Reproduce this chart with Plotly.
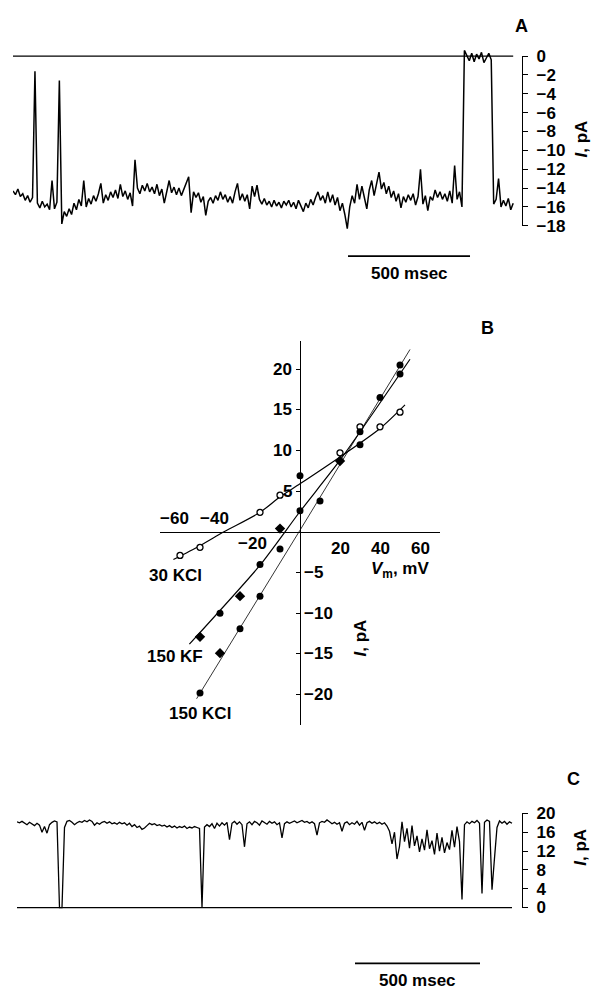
import plotly.graph_objects as go

W, H = 591, 997
FONT = "Liberation Sans, Arial, Helvetica, sans-serif"
WEIGHT = "bold"


def fx(px):
    return px / W


def fy(py):
    return 1 - py / H


# ---------------- Panel A data (single-channel current, pA; 10 ms samples) ----------------
A_DT_MS = 10
A_CURRENT_PA = [
    -14.3, -14.7, -14.1, -14.9, -14.6, -15.3, -14.8, -15.5, -15.0, -1.6,
    -15.6, -16.1, -15.4, -16.0, -15.7, -16.3, -13.2, -16.2, -15.5, -2.6,
    -17.8, -16.5, -17.0, -16.2, -16.8, -15.6, -16.3, -15.2, -15.9, -13.2,
    -16.0, -15.1, -15.7, -14.8, -15.4, -14.6, -13.5, -15.6, -14.7, -15.3,
    -14.4, -15.0, -14.2, -15.1, -13.6, -14.9, -14.3, -15.2, -14.5, -15.9,
    -11.0, -14.0, -14.6, -13.7, -14.3, -13.5, -14.4, -13.9, -14.6, -13.6,
    -14.8, -14.1, -15.6, -14.2, -13.2, -14.5, -13.9, -14.7, -14.0, -14.8,
    -14.2, -13.6, -12.8, -16.6, -14.4, -15.0, -14.5, -15.5, -14.9, -16.9,
    -15.4, -15.0, -15.6, -14.8, -15.3, -14.4, -15.2, -14.7, -15.5, -14.9,
    -15.6, -14.4, -13.5, -15.3, -14.6, -15.4, -14.7, -16.2, -13.8, -14.9,
    -13.7, -15.2, -15.7, -15.1, -15.8, -15.4, -16.0, -15.3, -15.9, -15.5,
    -16.1, -15.4, -15.8, -15.3, -16.0, -15.5, -16.2, -15.3, -15.9, -16.5,
    -15.6, -16.1, -15.2, -15.8, -15.0, -14.4, -15.3, -14.8, -15.6, -14.4,
    -15.5, -14.7, -15.8, -15.0, -16.4, -15.6, -16.8, -18.3, -16.0, -14.8,
    -15.6, -13.6, -15.2, -13.8, -15.0, -16.2, -14.2, -13.2, -14.8, -13.5,
    -12.3, -14.1, -13.4, -14.6, -13.8, -15.0, -14.3, -15.4, -14.6, -16.1,
    -14.9, -15.5, -14.7, -15.3, -14.6, -15.8, -14.9, -12.0, -15.7, -14.8,
    -16.4, -14.9, -15.3, -14.2, -15.0, -14.4, -15.2, -14.6, -15.4, -14.3,
    -15.6, -11.6, -15.2, -14.4, -16.0, 0.6, 0.1, -0.5, 0.3, -0.6,
    0.2, -0.3, 0.4, -0.7, -0.2, 0.3, -0.4, -15.7, -15.2, -13.0,
    -16.0, -15.3, -15.9, -15.1, -16.3, -15.6,
]
A_TIME_MS = [i * A_DT_MS for i in range(len(A_CURRENT_PA))]
A_CLOSED_LEVEL_PA = 0
A_TICK_VALUES = [0, -2, -4, -6, -8, -10, -12, -14, -16, -18]
A_SCALEBAR_START_MS = 1373
SCALEBAR_MS = 500

# ---------------- Panel B data (I-V relations) ----------------
B_OPEN_V = [-60, -50, -20, -10, 20, 30, 40, 50]
B_OPEN_I = [-2.9, -1.9, 2.4, 4.5, 9.7, 12.9, 12.9, 14.7]
B_FILLED_V = [-50, -40, -30, -20, -20, -10, 0, 0, 10, 30, 30, 40, 50, 50]
B_FILLED_I = [-19.8, -10.0, -11.9, -4.0, -7.9, -2.1, 2.6, 6.9, 3.8, 12.3, 10.7, 16.5, 20.5, 19.4]
B_DIAMOND_V = [-50, -40, -30, -10, 20]
B_DIAMOND_I = [-12.9, -14.9, -7.9, 0.4, 8.7]

FIT_30KCL_V = [-63.3, -50, -38, -20, -10, 0, 20, 40, 52.5]
FIT_30KCL_I = [-3.4, -1.7, 0.0, 2.4, 4.3, 5.9, 9.2, 12.7, 15.6]
FIT_150KF_V = [-55.3, -20, 0, 20, 55]
FIT_150KF_I = [-13.8, -4.1, 2.5, 8.8, 21.2]
FIT_150KCL_V = [-51.7, 0, 55]
FIT_150KCL_I = [-20.5, 0.2, 22.4]

B_XTICKS = [-60, -40, -20, 20, 40, 60]
B_YTICKS = [-20, -15, -10, -5, 5, 10, 15, 20]

# ---------------- Panel C data (pA; 10 ms samples) ----------------
C_DT_MS = 10
C_CURRENT_PA = [
    18.2, 18.0, 18.3, 17.9, 17.6, 18.1, 17.8, 17.4, 17.9, 17.5,
    16.0, 17.2, 15.8, 17.6, 18.1, 18.4, 18.2, 0.0, 0.0, 17.0,
    18.3, 18.5, 18.1, 17.6, 18.0, 18.3, 18.1, 18.5, 18.2, 18.6,
    18.3, 17.5, 18.0, 17.7, 18.1, 18.3, 17.9, 18.2, 17.8, 18.0,
    17.7, 18.1, 17.8, 18.0, 17.5, 17.9, 17.2, 17.6, 17.0, 17.3,
    16.6, 16.9, 17.4, 17.9, 17.6, 17.8, 17.4, 17.6, 17.3, 17.5,
    17.1, 17.4, 17.0, 17.3, 16.9, 17.2, 17.0, 17.3, 16.8, 17.1,
    16.9, 17.2, 17.0, 16.8, 0.0, 17.1, 17.6, 17.2, 17.8, 16.8,
    17.9, 17.3, 18.0, 17.5, 18.1, 14.4, 17.9, 18.3, 17.7, 18.2,
    17.6, 12.9, 17.8, 18.2, 17.6, 18.3, 18.0, 17.5, 18.4, 18.1,
    17.7, 18.3, 17.9, 18.2, 17.6, 18.0, 14.8, 17.8, 18.2, 17.9,
    18.1, 18.4, 18.0, 18.2, 18.5, 18.1, 18.3, 17.9, 18.2, 17.8,
    15.4, 18.0, 18.3, 18.1, 18.6, 18.2, 17.8, 18.1, 17.7, 18.0,
    16.2, 17.9, 18.2, 17.6, 18.0, 17.7, 18.3, 17.5, 18.1, 16.4,
    18.0, 18.3, 17.9, 18.2, 17.8, 18.1, 17.7, 18.0, 17.3, 16.2,
    13.5, 16.0, 10.3, 13.0, 18.2, 14.0, 16.8, 12.6, 17.4, 13.1,
    15.2, 11.8, 14.6, 12.2, 16.5, 12.5, 14.2, 11.3, 15.8, 12.0,
    14.9, 11.6, 13.8, 12.3, 16.4, 12.8, 17.2, 14.0, 1.7, 17.6,
    18.2, 17.8, 18.3, 18.0, 18.5, 17.9, 3.0, 18.1, 18.6, 18.3,
    3.8, 10.5, 17.0, 18.4, 17.9, 18.3, 17.7, 18.2, 17.9,
]
C_TIME_MS = [i * C_DT_MS for i in range(len(C_CURRENT_PA))]
C_CLOSED_LEVEL_PA = 0
C_TICK_VALUES = [0, 4, 8, 12, 16, 20]
C_SCALEBAR_START_MS = 1352

# ---------------- pixel geometry ----------------
A_MS_PER_PX = 500 / 122
A_X0, A_X1 = 13, 522
A_ZERO_PY, A_PX_PER_PA = 48, 173 / 18
A_YMIN, A_YMAX = -19.5, 1.6

C_MS_PER_PX = 500 / 125
C_X0, C_X1 = 17, 522
C_ZERO_PY, C_PX_PER_PA = 916, 4.8
C_YMIN, C_YMAX = -1.0, 21.0

B_X0, B_X1 = 160, 440
B_ORIGIN_PX, B_ORIGIN_PY = 300, 533
B_PX_PER_MV, B_PX_PER_PA = 2.0, 8.3
B_TOP, B_BOT = 338, 730


def tfont(size=17):
    return dict(family=FONT, size=size, color="black", weight=WEIGHT)


fig = go.Figure()

# Panel A
fig.add_trace(go.Scatter(x=[A_TIME_MS[0], A_TIME_MS[-1]], y=[A_CLOSED_LEVEL_PA] * 2,
                         mode="lines", line=dict(color="black", width=1.3),
                         xaxis="x", yaxis="y", hoverinfo="skip"))
fig.add_trace(go.Scatter(x=A_TIME_MS, y=A_CURRENT_PA, mode="lines",
                         line=dict(color="black", width=1.5),
                         xaxis="x", yaxis="y"))
fig.add_trace(go.Scatter(x=[None], y=[None], xaxis="x4", yaxis="y4", hoverinfo="skip"))

# Panel B
fig.add_trace(go.Scatter(x=FIT_30KCL_V, y=FIT_30KCL_I, mode="lines",
                         line=dict(color="black", width=1.2, shape="spline", smoothing=0.8),
                         xaxis="x2", yaxis="y2"))
fig.add_trace(go.Scatter(x=FIT_150KF_V, y=FIT_150KF_I, mode="lines",
                         line=dict(color="black", width=1.2, shape="spline", smoothing=0.6),
                         xaxis="x2", yaxis="y2"))
fig.add_trace(go.Scatter(x=FIT_150KCL_V, y=FIT_150KCL_I, mode="lines",
                         line=dict(color="black", width=0.8),
                         xaxis="x2", yaxis="y2"))
fig.add_trace(go.Scatter(x=B_OPEN_V, y=B_OPEN_I, mode="markers",
                         marker=dict(symbol="circle", size=6, color="white",
                                     line=dict(color="black", width=1.3)),
                         xaxis="x2", yaxis="y2", cliponaxis=False))
fig.add_trace(go.Scatter(x=B_FILLED_V, y=B_FILLED_I, mode="markers",
                         marker=dict(symbol="circle", size=7, color="black"),
                         xaxis="x2", yaxis="y2", cliponaxis=False))
fig.add_trace(go.Scatter(x=B_DIAMOND_V, y=B_DIAMOND_I, mode="markers",
                         marker=dict(symbol="diamond", size=8, color="black"),
                         xaxis="x2", yaxis="y2", cliponaxis=False))

# Panel C
fig.add_trace(go.Scatter(x=[C_TIME_MS[0], C_TIME_MS[-1]], y=[C_CLOSED_LEVEL_PA] * 2,
                         mode="lines", line=dict(color="black", width=1.3),
                         xaxis="x3", yaxis="y3", hoverinfo="skip"))
fig.add_trace(go.Scatter(x=C_TIME_MS, y=C_CURRENT_PA, mode="lines",
                         line=dict(color="black", width=1.3),
                         xaxis="x3", yaxis="y3"))
fig.add_trace(go.Scatter(x=[None], y=[None], xaxis="x5", yaxis="y5", hoverinfo="skip"))

hidden = dict(visible=False, showgrid=False, zeroline=False, fixedrange=True)

tick_axis = dict(side="right", showline=True, linecolor="black", linewidth=1.3,
                 ticks="outside", ticklen=5, tickwidth=1.2, tickcolor="black",
                 showgrid=False, zeroline=False, ticklabelstandoff=5,
                 tickfont=tfont(17))

fig.update_layout(
    width=W, height=H, margin=dict(l=0, r=0, t=0, b=0),
    paper_bgcolor="white", plot_bgcolor="rgba(0,0,0,0)", showlegend=False,
    font=dict(family=FONT, size=17, color="black"),
    xaxis=dict(domain=[fx(A_X0), fx(A_X1)], range=[0, (A_X1 - A_X0) * A_MS_PER_PX],
               anchor="y", **hidden),
    yaxis=dict(domain=[fy(A_ZERO_PY - A_YMIN * A_PX_PER_PA), fy(A_ZERO_PY - A_YMAX * A_PX_PER_PA)],
               range=[A_YMIN, A_YMAX], anchor="x", **hidden),
    xaxis4=dict(domain=[fx(A_X1 - 2), fx(A_X1)], range=[0, 1], anchor="y4", **hidden),
    yaxis4=dict(domain=[fy(A_ZERO_PY - min(A_TICK_VALUES) * A_PX_PER_PA), fy(A_ZERO_PY)],
                range=[min(A_TICK_VALUES), max(A_TICK_VALUES)], tickvals=A_TICK_VALUES,
                anchor="x4", **tick_axis),
    xaxis2=dict(domain=[fx(B_X0), fx(B_X1)],
                range=[(B_X0 - B_ORIGIN_PX) / B_PX_PER_MV, (B_X1 - B_ORIGIN_PX) / B_PX_PER_MV],
                anchor="free", position=fy(B_ORIGIN_PY), showline=True, linecolor="black",
                linewidth=1.3, ticks="", showticklabels=False, showgrid=False, zeroline=False),
    yaxis2=dict(domain=[fy(B_BOT), fy(B_TOP)],
                range=[(B_ORIGIN_PY - B_BOT) / B_PX_PER_PA, (B_ORIGIN_PY - B_TOP) / B_PX_PER_PA],
                anchor="free", position=fx(B_ORIGIN_PX), showline=True, linecolor="black",
                linewidth=1.3, ticks="outside", ticklen=4, tickwidth=1.1, tickcolor="black",
                tickvals=B_YTICKS, showticklabels=False, showgrid=False, zeroline=False),
    xaxis3=dict(domain=[fx(C_X0), fx(C_X1)], range=[0, (C_X1 - C_X0) * C_MS_PER_PX],
                anchor="y3", **hidden),
    yaxis3=dict(domain=[fy(C_ZERO_PY - C_YMIN * C_PX_PER_PA), fy(C_ZERO_PY - C_YMAX * C_PX_PER_PA)],
                range=[C_YMIN, C_YMAX], anchor="x3", **hidden),
    xaxis5=dict(domain=[fx(C_X1 - 2), fx(C_X1)], range=[0, 1], anchor="y5", **hidden),
    yaxis5=dict(domain=[fy(C_ZERO_PY), fy(C_ZERO_PY - max(C_TICK_VALUES) * C_PX_PER_PA)],
                range=[min(C_TICK_VALUES), max(C_TICK_VALUES)], tickvals=C_TICK_VALUES,
                anchor="x5", **tick_axis),
)

# scale bars (drawn in data time units)
fig.add_shape(type="line", xref="x", yref="paper", x0=A_SCALEBAR_START_MS,
              x1=A_SCALEBAR_START_MS + SCALEBAR_MS, y0=fy(252), y1=fy(252),
              line=dict(color="black", width=1.8))
fig.add_shape(type="line", xref="x3", yref="paper", x0=C_SCALEBAR_START_MS,
              x1=C_SCALEBAR_START_MS + SCALEBAR_MS, y0=fy(973), y1=fy(973),
              line=dict(color="black", width=1.8))

ann = []


def paper_text(text, px, py, size=17, angle=0):
    ann.append(dict(text=text, x=fx(px), y=fy(py), xref="paper", yref="paper",
                    xanchor="center", yanchor="middle", showarrow=False, textangle=angle,
                    font=tfont(size)))


ann.append(dict(text=f"{SCALEBAR_MS} msec", x=A_SCALEBAR_START_MS + SCALEBAR_MS / 2, y=fy(270),
                xref="x", yref="paper", showarrow=False, xanchor="center", yanchor="middle",
                font=tfont(17)))
ann.append(dict(text=f"{SCALEBAR_MS} msec", x=C_SCALEBAR_START_MS + SCALEBAR_MS / 2, y=fy(990),
                xref="x3", yref="paper", showarrow=False, xanchor="center", yanchor="middle",
                font=tfont(17)))

paper_text("A", 521, 17, 18)
paper_text("B", 487, 325, 18)
paper_text("C", 573, 785, 18)
paper_text("<i>I</i>, pA", 581, 133, 17, -90)
paper_text("<i>I</i>, pA", 581, 855, 17, -90)


def label(v):
    return f"{v}".replace("-", "\u2212")


for v in B_YTICKS:
    if v > 0:
        ann.append(dict(text=label(v), x=0, y=v, xref="x2", yref="y2", showarrow=False,
                        xanchor="right", yanchor="middle", xshift=-6, font=tfont(17)))
    else:
        ann.append(dict(text=label(v), x=0, y=v, xref="x2", yref="y2", showarrow=False,
                        xanchor="left", yanchor="middle", xshift=2, font=tfont(17)))

for v in B_XTICKS:
    if v <= -40:
        xs, ys = -6, 13
    elif v < 0:
        xs, ys = -8, -12
    else:
        xs, ys = 0, -17
    ann.append(dict(text=label(v), x=v, y=0, xref="x2", yref="y2", showarrow=False,
                    xanchor="center", yanchor="middle", xshift=xs, yshift=ys, font=tfont(17)))

for text, v, i in [("30 KCl", -62.5, -5.4), ("150 KF", -62.5, -15.3), ("150 KCl", -50, -22.3),
                   ("<i>V</i><sub>m</sub>, mV", 50, -4.7)]:
    ann.append(dict(text=text, x=v, y=i, xref="x2", yref="y2", showarrow=False,
                    xanchor="center", yanchor="middle", font=tfont(17)))
ann.append(dict(text="<i>I</i>, pA", x=30, y=-13.1, xref="x2", yref="y2", showarrow=False,
                xanchor="center", yanchor="middle", textangle=-90, font=tfont(17)))

fig.update_layout(annotations=ann)
fig.write_html("out.html")
